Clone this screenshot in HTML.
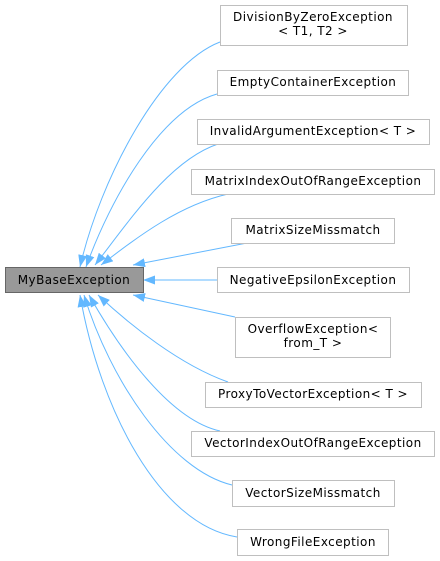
<!DOCTYPE html>
<html><head><meta charset="utf-8"><style>
html,body{margin:0;padding:0;background:#fff;width:440px;height:561px;overflow:hidden}
text{font-family:"DejaVu Sans","Liberation Sans",sans-serif;font-size:12px;letter-spacing:0.45px;fill:#000}
</style></head><body>
<svg width="440" height="561" viewBox="0 0 440 561" xmlns="http://www.w3.org/2000/svg">
<defs>
<marker id="a" viewBox="0 0 12 9" refX="12" refY="4.5" markerWidth="12" markerHeight="9" markerUnits="userSpaceOnUse" orient="auto-start-reverse">
<path d="M0,0 L12,4.5 L0,9 z" fill="#63b8ff"/>
</marker>
</defs>
<g fill="none" stroke="#63b8ff" stroke-width="1">
<path d="M80,267 C100,180 160,65 220,42" marker-start="url(#a)"/>
<path d="M86,267 C110,200 160,110 217,94" marker-start="url(#a)"/>
<path d="M95,265 C130,220 170,160 218,144" marker-start="url(#a)"/>
<path d="M101,265 C140,235 180,205 228,194" marker-start="url(#a)"/>
<path d="M133,265 L247,243" marker-start="url(#a)"/>
<path d="M143,280 L217,280" marker-start="url(#a)"/>
<path d="M133,295 L235,317" marker-start="url(#a)"/>
<path d="M98,295 C130,325 180,365 228,382" marker-start="url(#a)"/>
<path d="M89,295 C120,350 170,420 220,431" marker-start="url(#a)"/>
<path d="M84,295 C110,380 170,470 232,485" marker-start="url(#a)"/>
<path d="M80,295 C100,410 160,525 237,537" marker-start="url(#a)"/>
</g>
<g stroke="#bfbfbf" fill="#fff">
<rect x="220.5" y="5.5" width="187" height="40"/>
<rect x="217.5" y="70.5" width="191" height="25"/>
<rect x="197.5" y="119.5" width="232" height="25"/>
<rect x="191.5" y="169.5" width="243" height="25"/>
<rect x="231.5" y="218.5" width="163" height="25"/>
<rect x="217.5" y="267.5" width="192" height="25"/>
<rect x="235.5" y="317.5" width="155" height="40"/>
<rect x="205.5" y="382.5" width="216" height="25"/>
<rect x="191.5" y="431.5" width="243" height="25"/>
<rect x="232.5" y="480.5" width="162" height="26"/>
<rect x="237.5" y="529.5" width="151" height="26"/>
</g>
<rect x="5.5" y="267.5" width="138" height="25" fill="#999" stroke="#666"/>
<g text-anchor="middle">
<text x="74" y="284">MyBaseException</text>
<text x="313" y="21">DivisionByZeroException</text>
<text x="313" y="35">&lt; T1, T2 &gt;</text>
<text x="313" y="86">EmptyContainerException</text>
<text x="313" y="135">InvalidArgumentException&lt; T &gt;</text>
<text x="313" y="185">MatrixIndexOutOfRangeException</text>
<text x="313" y="234">MatrixSizeMissmatch</text>
<text x="313" y="284">NegativeEpsilonException</text>
<text x="313" y="333">OverflowException&lt;</text>
<text x="313" y="347">from_T &gt;</text>
<text x="313" y="398">ProxyToVectorException&lt; T &gt;</text>
<text x="313" y="447">VectorIndexOutOfRangeException</text>
<text x="313" y="497">VectorSizeMissmatch</text>
<text x="313" y="546">WrongFileException</text>
</g>
</svg>
</body></html>
